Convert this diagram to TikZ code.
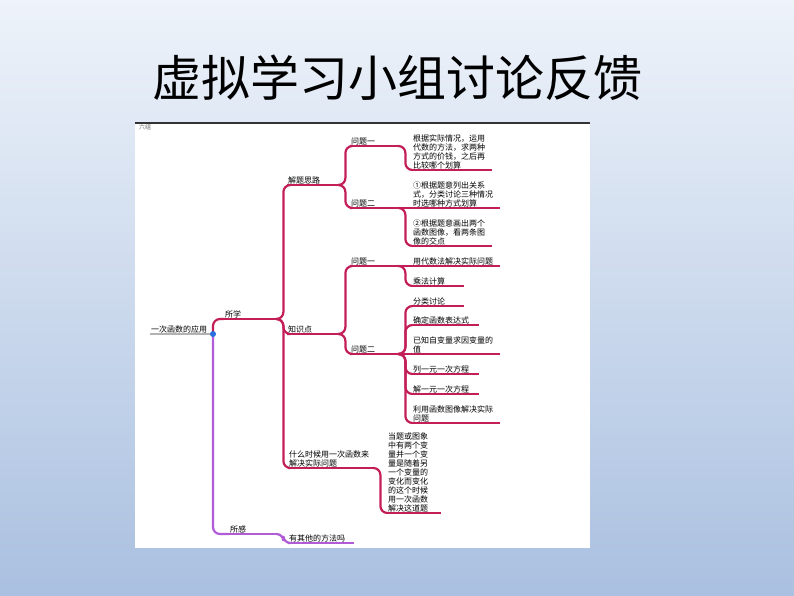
\documentclass[tikz,border=0pt]{standalone}
\usepackage{fontspec}
\setmainfont{Noto Sans CJK SC}
\XeTeXlinebreaklocale "zh"
\XeTeXlinebreakskip=0pt plus 1pt
\definecolor{learnred}{RGB}{196,30,88}
\definecolor{feelpurple}{RGB}{176,92,214}
\definecolor{dotblue}{RGB}{40,110,220}
\definecolor{bgtop}{RGB}{238,243,250}
\definecolor{bgbot}{RGB}{170,192,224}
\tikzset{
  topic/.style={anchor=south west, inner sep=1pt, text width=#1, align=left,
    font=\fontsize{8}{9}\selectfont},
  branch/.style={line width=2.2pt, rounded corners=7pt, learnred},
}
\begin{document}
\begin{tikzpicture}[x=1pt,y=-1pt]
        \shade[top color=bgtop, bottom color=bgbot] (0,0) rectangle (794,596);
        \useasboundingbox (0,0) rectangle (794,596);
        \node (title) at (397,78) {\fontsize{49}{52}\selectfont 虚拟学习小组讨论反馈};
        \fill[white] (135,123) rectangle (590,548);
        \draw[black!80, line width=1.2pt] (135,123) -- (590,123);
        \node[anchor=north west, inner sep=1pt, font=\fontsize{6}{7}\selectfont, black!60] (group) at (138,123) {六组};

        % root
        \node[topic=60] (root) at (150,334) {一次函数的应用};
        \draw[gray!60, line width=1.6pt] (root.south west) -- (root.south east);
        \coordinate (hub) at (213,334);

        % level 1
        \node[topic=51] (learn) at (224,319) {所学};
        \node[topic=46] (feel) at (229,534) {所感};

        % level 2
        \node[topic=50] (idea) at (287,185) {解题思路};
        \node[topic=50] (know) at (287,334) {知识点};
        \node[topic=84] (when) at (288,468) {什么时候用一次函数来\\解决实际问题};
        \node[topic=64] (other) at (288,543) {有其他的方法吗};

        % level 3
        \node[topic=47] (ideaA) at (350,146) {问题一};
        \node[topic=47] (ideaB) at (350,208) {问题二};
        \node[topic=47] (knowA) at (350,266) {问题一};
        \node[topic=47] (knowB) at (350,354) {问题二};
        \node[topic=52] (whenA) at (387,513) {当题或图象\\中有两个变\\量并一个变\\量是随着另\\一个变量的\\变化而变化\\的这个时候\\用一次函数\\解决这道题};

        % leaves
        \node[topic=78] (ideaA1) at (412,170) {根据实际情况，运用\\代数的方法，求两种\\方式的价钱，之后再\\比较哪个划算};
        \node[topic=86] (ideaB1) at (412,208) {①根据题意列出关系\\式，分类讨论三种情况\\时选哪种方式划算};
        \node[topic=78] (ideaB2) at (412,246) {②根据题意画出两个\\函数图像，看两条图\\像的交点};
        \node[topic=86] (knowA1) at (412,266) {用代数法解决实际问题};
        \node[topic=50] (knowA2) at (412,286) {乘法计算};
        \node[topic=50] (knowB1) at (412,306) {分类讨论};
        \node[topic=65] (knowB2) at (412,325) {确定函数表达式};
        \node[topic=86] (knowB3) at (412,354) {已知自变量求因变量的\\值};
        \node[topic=65] (knowB4) at (412,374) {列一元一次方程};
        \node[topic=65] (knowB5) at (412,394) {解一元一次方程};
        \node[topic=86] (knowB6) at (412,423) {利用函数图像解决实际\\问题};

        % underlines
        \foreach \n in {learn,idea,know,when,ideaA,ideaB,knowA,knowB,whenA,
                        ideaA1,ideaB1,ideaB2,knowA1,knowA2,knowB1,knowB2,knowB3,knowB4,knowB5,knowB6}
          \draw[learnred, line width=2.2pt] (\n.south west) -- (\n.south east);
        \foreach \n in {feel,other}
          \draw[feelpurple, line width=2.2pt] (\n.south west) -- (\n.south east);

        % connectors
        \draw[branch] (hub) |- (learn.south west);
        \draw[branch, feelpurple] (hub) |- (feel.south west);
        \draw[branch, feelpurple] (feel.south east) -- ++(6,0) |- (other.south west);
        \foreach \p/\c in {learn/idea,learn/know,learn/when,idea/ideaA,idea/ideaB,
                           know/knowA,know/knowB,when/whenA,ideaA/ideaA1,ideaB/ideaB2,
                           knowA/knowA2,knowB/knowB1,knowB/knowB2,
                           knowB/knowB4,knowB/knowB5,knowB/knowB6}
          \draw[branch] (\p.south east) -- ++(6,0) |- (\c.south west);
        \foreach \p/\c in {ideaB/ideaB1,knowA/knowA1,knowB/knowB3}
          \draw[branch] (\p.south east) -- (\c.south west);
        \fill[dotblue] (hub) circle (3pt);
    \end{tikzpicture}
\end{document}
